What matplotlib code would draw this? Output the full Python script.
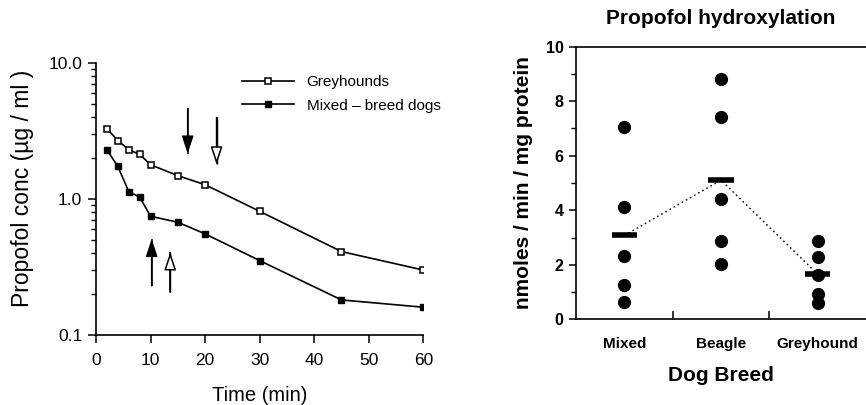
import matplotlib
matplotlib.use("Agg")
import matplotlib.pyplot as plt
from matplotlib.ticker import FixedLocator, LogLocator, NullFormatter, FixedFormatter
import numpy as np

plt.rcParams['font.family'] = ['Liberation Sans', 'DejaVu Sans']

# ---- plasma concentration time course ----
time_min = [2, 4, 6, 8, 10, 15, 20, 30, 45, 60]
greyhounds = [3.27, 2.68, 2.30, 2.12, 1.78, 1.48, 1.27, 0.81, 0.41, 0.30]
mixed_breed = [2.29, 1.73, 1.13, 1.03, 0.745, 0.673, 0.553, 0.352, 0.181, 0.160]

# recovery arrows: (time, tail conc, head conc, filled)
arrow_time = [16.8, 22.1, 10.2, 13.6]
arrow_tail = [4.61, 3.96, 0.230, 0.206]
arrow_head = [2.15, 1.79, 0.508, 0.405]
arrow_filled = [True, False, True, False]

# ---- microsomal hydroxylation rates ----
breeds = ["Mixed", "Beagle", "Greyhound"]
rate_mixed = [7.05, 4.13, 2.32, 1.26, 0.62]
rate_beagle = [8.80, 7.41, 4.41, 2.88, 2.02]
rate_greyhound = [2.88, 2.27, 1.62, 0.92, 0.59]

fig = plt.figure(figsize=(8.66, 4.05), dpi=100)

# Left panel
ax1 = fig.add_axes([0.1109, 0.1728, 0.3779, 0.6724])
ax1.set_yscale('log')
ax1.plot(time_min, greyhounds, '-s', color='black', lw=1.2, ms=5,
         mfc='white', mec='black', mew=1.1, label='Greyhounds')
ax1.plot(time_min, mixed_breed, '-s', color='black', lw=1.2, ms=5,
         mfc='black', mec='black', label='Mixed \u2013 breed dogs')
ax1.set_xlim(0, 60)
ax1.set_ylim(0.1, 10)
ax1.xaxis.set_major_locator(FixedLocator([0, 10, 20, 30, 40, 50, 60]))
ax1.yaxis.set_major_locator(FixedLocator([0.1, 1.0, 10.0]))
ax1.yaxis.set_major_formatter(FixedFormatter(['0.1', '1.0', '10.0']))
ax1.yaxis.set_minor_locator(LogLocator(base=10, subs=np.arange(2, 10)))
ax1.yaxis.set_minor_formatter(NullFormatter())
ax1.tick_params(axis='both', which='major', direction='out', length=6,
                width=1.1, labelsize=12.5, pad=4)
ax1.tick_params(axis='x', which='major', pad=7)
ax1.tick_params(axis='y', which='minor', direction='out', length=3.5, width=1)
for s in ['top', 'right']:
    ax1.spines[s].set_visible(False)
for s in ['left', 'bottom']:
    ax1.spines[s].set_linewidth(1.2)
ax1.set_xlabel('Time (min)', fontsize=14.5, labelpad=13)
ax1.set_ylabel('Propofol conc (\u00b5g / ml )', fontsize=16.5)
ax1.yaxis.set_label_coords(-0.19, 0.538)

for t, y0, y1, filled in zip(arrow_time, arrow_tail, arrow_head, arrow_filled):
    # shaft runs all the way to the tip, head drawn on top
    ax1.plot([t, t], [y0, y1], color='black', lw=1.1, solid_capstyle='butt')
    ax1.annotate('', xy=(t, y1), xytext=(t, y0),
                 arrowprops=dict(arrowstyle='-|>,head_length=0.9,head_width=0.3',
                                 fc='black' if filled else 'white', ec='black',
                                 lw=1.1, shrinkA=0, shrinkB=0, mutation_scale=12))
    if not filled:
        ax1.plot([t, t], [y0, y1], color='black', lw=1.0, solid_capstyle='butt')

ax1.legend(loc='upper left', bbox_to_anchor=(0.41, 1.0), frameon=False,
           fontsize=11, handlelength=3.4, handletextpad=0.8, labelspacing=0.65,
           borderaxespad=0.4, markerscale=0.85)

# Right panel
ax2 = fig.add_axes([0.6651, 0.2116, 0.3349, 0.6731])
groups = [rate_mixed, rate_beagle, rate_greyhound]
xpos = np.arange(1, len(breeds) + 1)
means = [np.mean(g) for g in groups]
for x, g in zip(xpos, groups):
    ax2.plot([x] * len(g), g, 'o', color='black', ms=8.5, clip_on=False)
ax2.plot(xpos, means, linestyle=(0, (1.2, 2.2)), color='black', lw=1)
ax2.hlines(means, xpos - 0.13, xpos + 0.13, colors='black', lw=4)

ax2.set_xlim(0.5, 3.5)
ax2.set_ylim(0, 10)
ax2.set_xticks([1.5, 2.5])
ax2.set_xticklabels([])
ax2.tick_params(axis='x', direction='in', length=6, width=1.1)
ax2.set_yticks([0, 2, 4, 6, 8, 10])
ax2.set_yticks([1, 3, 5, 7, 9], minor=True)
ax2.tick_params(axis='y', which='major', direction='out', length=5, width=1.1,
                labelsize=11.5, pad=4)
ax2.tick_params(axis='y', which='minor', direction='out', length=3.5, width=1)
for lbl in ax2.get_yticklabels():
    lbl.set_fontweight('bold')
for x, name in zip(xpos, breeds):
    ax2.text(x, -0.9, name, ha='center', va='center', fontsize=11,
             fontweight='bold', transform=ax2.transData)
ax2.spines['right'].set_visible(False)
for s in ['left', 'bottom', 'top']:
    ax2.spines[s].set_linewidth(1.2)
ax2.set_xlabel('Dog Breed', fontsize=15, fontweight='bold', labelpad=30)
ax2.set_ylabel('nmoles / min / mg protein', fontsize=15, fontweight='bold',
               labelpad=9)
ax2.set_title('Propofol hydroxylation', fontsize=15, fontweight='bold', pad=16)

fig.savefig('out.png', dpi=100)
